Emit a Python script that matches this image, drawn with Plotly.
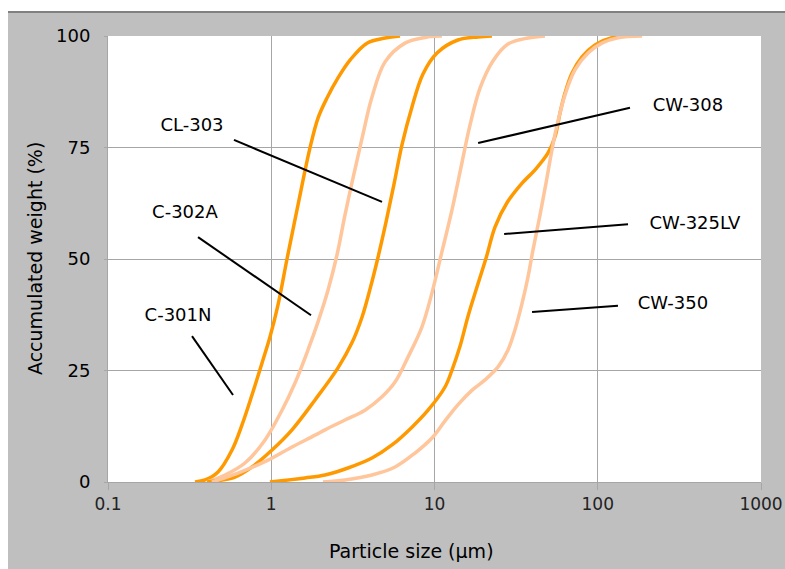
import plotly.graph_objects as go

# ---- data ----
c301n_x = [0.341, 0.393, 0.472, 0.575, 0.662, 0.762, 0.878, 0.982, 1.100, 1.249, 1.458, 1.727, 1.934, 2.195, 2.563, 3.037, 3.86, 4.98, 6.15]
c301n_y = [0, 0.45, 2.24, 7.17, 12.8, 19.5, 26.7, 32.5, 39.7, 50.0, 62.1, 74.9, 81.6, 86.1, 90.6, 94.6, 98.4, 99.55, 100]

c302a_x = [0.404, 0.521, 0.690, 0.916, 1.164, 1.398, 1.679, 1.934, 2.226, 2.527, 2.83, 3.17, 3.60, 4.14, 4.98, 6.60, 9.13, 11.1]
c302a_y = [0, 1.57, 4.26, 9.42, 16.1, 22.2, 29.6, 35.9, 43.0, 50.9, 59.9, 68.2, 77.1, 86.3, 94.2, 98.4, 99.8, 100]

cl303_x = [0.404, 0.600, 0.762, 1.011, 1.34, 1.854, 2.563, 3.12, 3.60, 4.03, 4.51, 5.05, 5.65, 6.32, 7.28, 8.50, 10.36, 13.9, 18.5, 22.5]
cl303_y = [0, 1.12, 3.36, 7.17, 11.7, 18.4, 25.6, 31.2, 37.0, 43.3, 50.4, 58.3, 66.8, 75.6, 84.1, 91.5, 96.2, 99.1, 99.8, 100]

cw308_x = [0.433, 0.626, 0.955, 1.34, 1.854, 2.134, 2.83, 3.75, 4.77, 5.73, 6.88, 8.38, 9.65, 11.1, 12.8, 14.5, 16.5, 19.0, 22.8, 28.2, 37.4, 47.5]
cw308_y = [0, 2.0, 4.9, 7.85, 10.5, 11.7, 13.9, 16.1, 19.1, 22.4, 28.0, 34.8, 42.4, 51.6, 61.0, 70.4, 80.0, 88.3, 94.4, 98.2, 99.55, 100]

cw325lv_x = [0.982, 1.609, 2.134, 2.95, 4.14, 5.49, 7.28, 9.13, 11.6, 12.8, 14.3, 16.0, 18.2, 20.7, 23.5, 27.8, 34.4, 41.3, 49.6, 54.7, 58.7, 63.0, 69.6, 80.1, 96.2, 122, 162]
cw325lv_y = [0, 0.9, 1.57, 3.14, 5.38, 8.3, 12.3, 16.1, 21.3, 25.1, 30.3, 37.0, 43.7, 50.2, 57.2, 62.6, 67.0, 70.0, 73.8, 77.4, 82.7, 87.2, 91.7, 95.3, 98.0, 99.6, 100]

cw350_x = [2.075, 2.83, 4.14, 5.73, 7.60, 9.65, 11.6, 13.9, 17.0, 20.4, 24.5, 28.2, 31.1, 34.4, 37.4, 40.1, 44.3, 48.2, 51.7, 56.3, 63.0, 72.5, 87.2, 106, 133, 187]
cw350_y = [0, 0.45, 1.57, 3.36, 6.5, 9.87, 13.7, 17.3, 20.6, 22.9, 25.8, 29.6, 34.1, 40.1, 46.0, 52.0, 59.9, 67.0, 73.3, 80.0, 86.8, 92.4, 96.2, 98.4, 99.6, 100]

series_names = ["C-301N", "C-302A", "CL-303", "CW-308", "CW-325LV", "CW-350"]
series_x = [c301n_x, c302a_x, cl303_x, cw308_x, cw325lv_x, cw350_x]
series_y = [c301n_y, c302a_y, cl303_y, cw308_y, cw325lv_y, cw350_y]

# label text positions and leader line end points
label_x = [0.2685, 0.296, 0.327, 357, 394, 289]
label_y = [37.2, 60.3, 79.6, 84.1, 57.8, 39.7]
leader_x = [[0.327, 0.583], [0.356, 1.752], [0.591, 4.77], [18.5, 157.6], [26.7, 153.2], [39.6, 133]]
leader_y = [[32.7, 19.5], [54.9, 37.4], [76.7, 62.8], [76.0, 83.9], [55.6, 57.8], [38.1, 39.5]]

x_ticks = [0.1, 1, 10, 100, 1000]
x_ticktext = ["0.1", "1", "10", "100", "1000"]
y_ticks = [0, 25, 50, 75, 100]

DARK = "#ff9900"
LIGHT = "#ffc59b"
colors = [DARK, LIGHT, DARK, LIGHT, DARK, LIGHT]
FONT = "DejaVu Sans"

fig = go.Figure()

for name, xs, ys, col in zip(series_names, series_x, series_y, colors):
    fig.add_trace(go.Scatter(x=xs, y=ys, mode="lines", name=name,
                             line=dict(color=col, width=3.5, shape="spline", smoothing=1.0),
                             showlegend=False, hoverinfo="skip"))

for lx, ly in zip(leader_x, leader_y):
    fig.add_trace(go.Scatter(x=lx, y=ly, mode="lines", line=dict(color="black", width=2),
                             showlegend=False, hoverinfo="skip"))

fig.add_trace(go.Scatter(x=label_x, y=label_y, mode="text", text=series_names,
                         textfont=dict(family=FONT, size=18, color="black"),
                         showlegend=False, hoverinfo="skip", cliponaxis=False))

GRID = "#a6a6a6"
fig.update_xaxes(type="log", range=[-1, 3], tickvals=x_ticks, ticktext=x_ticktext,
                 showgrid=True, gridcolor=GRID, gridwidth=1,
                 showline=True, linecolor=GRID, linewidth=1,
                 ticks="outside", ticklen=7, tickcolor=GRID,
                 tickfont=dict(family=FONT, size=17, color="#222222"),
                 zeroline=False, automargin=False)
fig.update_yaxes(range=[0, 100], tickvals=y_ticks,
                 showgrid=True, gridcolor=GRID, gridwidth=1,
                 showline=True, linecolor=GRID, linewidth=1,
                 ticks="outside", ticklen=3, tickcolor=GRID,
                 ticklabelstandoff=10,
                 tickfont=dict(family=FONT, size=18, color="black"),
                 zeroline=False, automargin=False)

L, R, T, B = 108, 24, 36, 87
W, H = 785, 569
pw, ph = W - L - R, H - T - B

def px2xp(px):
    return (px - L) / pw

def py2yp(py):
    return (H - B - py) / ph

shapes = [
    dict(type="rect", xref="paper", yref="paper", x0=px2xp(-5), x1=px2xp(W + 5),
         y0=py2yp(11), y1=py2yp(-5), fillcolor="white", line=dict(width=0), layer="above"),
    dict(type="rect", xref="paper", yref="paper", x0=px2xp(-5), x1=px2xp(8),
         y0=py2yp(H + 5), y1=py2yp(-5), fillcolor="white", line=dict(width=0), layer="above"),
    dict(type="line", xref="paper", yref="paper", x0=px2xp(8), x1=px2xp(W + 5),
         y0=py2yp(12), y1=py2yp(12), line=dict(color="#808080", width=2), layer="above"),
]

annotations = [
    dict(text="Particle size (µm)", xref="paper", yref="paper", x=px2xp(411), y=py2yp(551),
         showarrow=False, font=dict(family=FONT, size=19, color="black"),
         xanchor="center", yanchor="middle"),
    dict(text="Accumulated weight (%)", xref="paper", yref="paper", x=px2xp(35), y=py2yp(259),
         showarrow=False, textangle=-90, font=dict(family=FONT, size=19, color="black"),
         xanchor="center", yanchor="middle"),
]

fig.update_layout(width=W, height=H, margin=dict(l=L, r=R, t=T, b=B, autoexpand=False),
                  paper_bgcolor="#bfbfbf", plot_bgcolor="white",
                  shapes=shapes, annotations=annotations,
                  font=dict(family=FONT))

fig.write_html("out.html")
